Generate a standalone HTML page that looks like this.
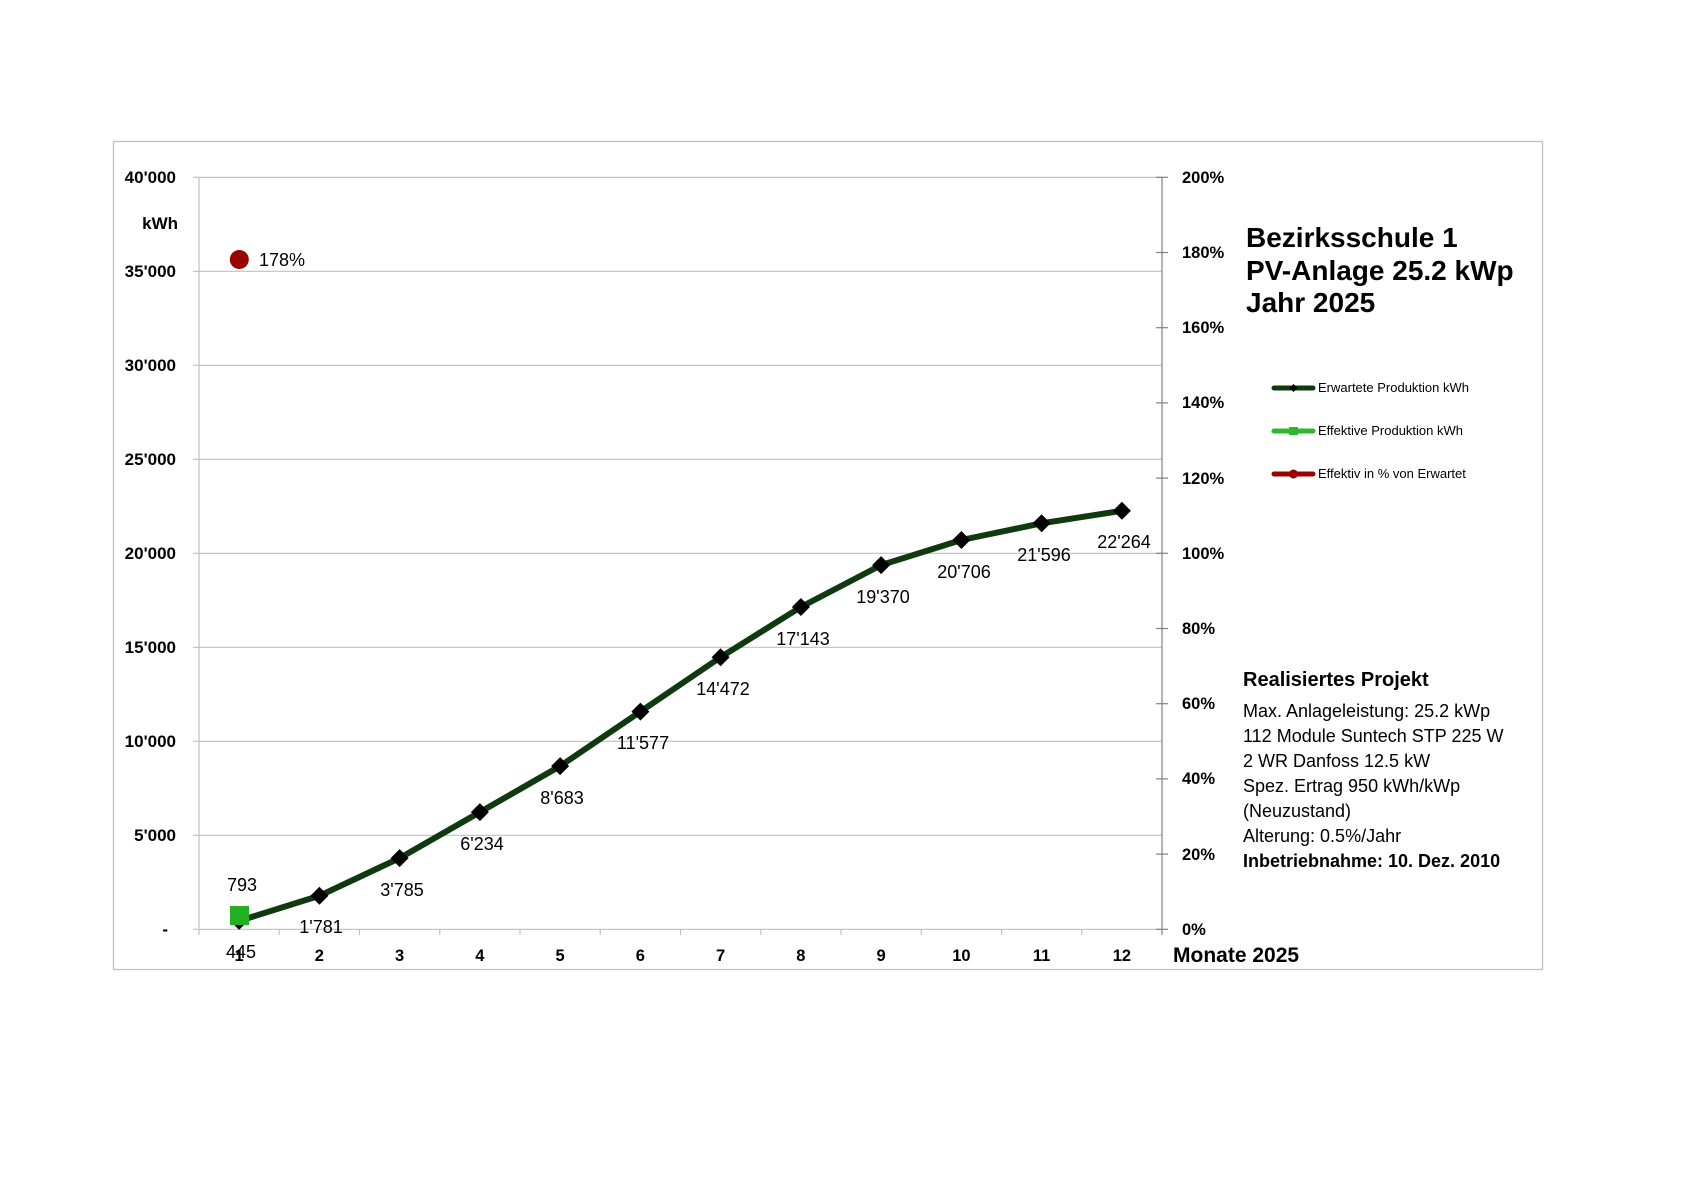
<!DOCTYPE html>
<html><head><meta charset="utf-8"><style>
html,body{margin:0;padding:0;background:#fff;}
svg{display:block;}
text{font-family:"Liberation Sans",sans-serif;}
</style></head><body>
<svg width="1683" height="1190" viewBox="0 0 1683 1190" xmlns="http://www.w3.org/2000/svg">
<rect x="113.5" y="141.5" width="1429" height="828" fill="#fff" stroke="#bfbfbf" stroke-width="1.3"/>
<g stroke="#c0c0c0" stroke-width="1.2">
<line x1="193" y1="177.3" x2="1162" y2="177.3"/>
<line x1="193" y1="271.3" x2="1162" y2="271.3"/>
<line x1="193" y1="365.3" x2="1162" y2="365.3"/>
<line x1="193" y1="459.3" x2="1162" y2="459.3"/>
<line x1="193" y1="553.3" x2="1162" y2="553.3"/>
<line x1="193" y1="647.3" x2="1162" y2="647.3"/>
<line x1="193" y1="741.3" x2="1162" y2="741.3"/>
<line x1="193" y1="835.3" x2="1162" y2="835.3"/>
<line x1="193" y1="929.3" x2="1162" y2="929.3"/>
<line x1="199" y1="177.3" x2="199" y2="935"/>
<line x1="279.25" y1="929.3" x2="279.25" y2="935"/>
<line x1="359.5" y1="929.3" x2="359.5" y2="935"/>
<line x1="439.75" y1="929.3" x2="439.75" y2="935"/>
<line x1="520" y1="929.3" x2="520" y2="935"/>
<line x1="600.25" y1="929.3" x2="600.25" y2="935"/>
<line x1="680.5" y1="929.3" x2="680.5" y2="935"/>
<line x1="760.75" y1="929.3" x2="760.75" y2="935"/>
<line x1="841" y1="929.3" x2="841" y2="935"/>
<line x1="921.25" y1="929.3" x2="921.25" y2="935"/>
<line x1="1001.5" y1="929.3" x2="1001.5" y2="935"/>
<line x1="1081.75" y1="929.3" x2="1081.75" y2="935"/>
</g>
<g stroke="#808080" stroke-width="1.2">
<line x1="1162" y1="177.3" x2="1162" y2="935"/>
<line x1="1156" y1="177.3" x2="1168" y2="177.3"/>
<line x1="1156" y1="252.5" x2="1168" y2="252.5"/>
<line x1="1156" y1="327.7" x2="1168" y2="327.7"/>
<line x1="1156" y1="402.9" x2="1168" y2="402.9"/>
<line x1="1156" y1="478.1" x2="1168" y2="478.1"/>
<line x1="1156" y1="553.3" x2="1168" y2="553.3"/>
<line x1="1156" y1="628.5" x2="1168" y2="628.5"/>
<line x1="1156" y1="703.7" x2="1168" y2="703.7"/>
<line x1="1156" y1="778.9" x2="1168" y2="778.9"/>
<line x1="1156" y1="854.1" x2="1168" y2="854.1"/>
<line x1="1156" y1="929.3" x2="1168" y2="929.3"/>
</g>
<g font-size="17" font-weight="bold" text-anchor="end" fill="#000">
<text x="176" y="183">40'000</text>
<text x="178" y="229">kWh</text>
<text x="176" y="277">35'000</text>
<text x="176" y="371">30'000</text>
<text x="176" y="465">25'000</text>
<text x="176" y="559">20'000</text>
<text x="176" y="653">15'000</text>
<text x="176" y="747">10'000</text>
<text x="176" y="841">5'000</text>
<text x="168" y="935">-</text>
</g>
<g font-size="16.5" font-weight="bold" fill="#000">
<text x="1182" y="183">200%</text>
<text x="1182" y="258">180%</text>
<text x="1182" y="333">160%</text>
<text x="1182" y="408">140%</text>
<text x="1182" y="484">120%</text>
<text x="1182" y="559">100%</text>
<text x="1182" y="634">80%</text>
<text x="1182" y="709">60%</text>
<text x="1182" y="784">40%</text>
<text x="1182" y="860">20%</text>
<text x="1182" y="935">0%</text>
<text x="1173" y="962" font-size="21">Monate 2025</text>
</g>
<g font-size="16.5" font-weight="bold" text-anchor="middle" fill="#000">
<text x="239.1" y="961">1</text><text x="319.4" y="961">2</text><text x="399.6" y="961">3</text>
<text x="479.9" y="961">4</text><text x="560.1" y="961">5</text><text x="640.4" y="961">6</text>
<text x="720.6" y="961">7</text><text x="800.9" y="961">8</text><text x="881.1" y="961">9</text>
<text x="961.4" y="961">10</text><text x="1041.6" y="961">11</text><text x="1121.9" y="961">12</text>
</g>
<polyline fill="none" stroke="#0f3a0f" stroke-width="6" stroke-linejoin="round" points="239.1,920.9 319.4,895.8 399.6,858.1 479.9,812.1 560.1,766.1 640.4,711.6 720.6,657.2 800.9,607.0 881.1,565.1 961.4,540.0 1041.6,523.3 1121.9,510.8"/>
<g fill="#000">
<path d="M239.1 911.9l9 9-9 9-9-9z"/>
<path d="M319.4 886.8l9 9-9 9-9-9z"/>
<path d="M399.6 849.1l9 9-9 9-9-9z"/>
<path d="M479.9 803.1l9 9-9 9-9-9z"/>
<path d="M560.1 757.1l9 9-9 9-9-9z"/>
<path d="M640.4 702.6l9 9-9 9-9-9z"/>
<path d="M720.6 648.2l9 9-9 9-9-9z"/>
<path d="M800.9 598.0l9 9-9 9-9-9z"/>
<path d="M881.1 556.1l9 9-9 9-9-9z"/>
<path d="M961.4 531.0l9 9-9 9-9-9z"/>
<path d="M1041.6 514.3l9 9-9 9-9-9z"/>
<path d="M1121.9 501.8l9 9-9 9-9-9z"/>
</g>
<rect x="230" y="906" width="19" height="19" fill="#22b022"/>
<circle cx="239.3" cy="259.5" r="9.5" fill="#990000"/>
<g font-size="18" fill="#000" text-anchor="middle">
<text x="241" y="958">445</text>
<text x="321" y="933">1'781</text>
<text x="402" y="896">3'785</text>
<text x="482" y="850">6'234</text>
<text x="562" y="804">8'683</text>
<text x="643" y="749">11'577</text>
<text x="723" y="695">14'472</text>
<text x="803" y="645">17'143</text>
<text x="883" y="603">19'370</text>
<text x="964" y="578">20'706</text>
<text x="1044" y="561">21'596</text>
<text x="1124" y="548">22'264</text>
<text x="242" y="891">793</text>
<text x="282" y="266">178%</text>
</g>
<g font-size="28" font-weight="bold" fill="#000">
<text x="1246" y="247">Bezirksschule 1</text>
<text x="1246" y="280">PV-Anlage 25.2 kWp</text>
<text x="1246" y="312">Jahr 2025</text>
</g>
<g stroke-width="5" stroke-linecap="round">
<line x1="1274" y1="388" x2="1313" y2="388" stroke="#0f3a0f"/>
<line x1="1274" y1="431" x2="1313" y2="431" stroke="#2eb82e"/>
<line x1="1274" y1="474" x2="1313" y2="474" stroke="#990000"/>
</g>
<path d="M1293.5 384l4 4-4 4-4-4z" fill="#000"/>
<rect x="1289" y="427" width="9" height="8" fill="#2eb82e"/>
<circle cx="1293.5" cy="474" r="4.5" fill="#990000"/>
<g font-size="13" fill="#000">
<text x="1318" y="392">Erwartete Produktion kWh</text>
<text x="1318" y="435">Effektive Produktion kWh</text>
<text x="1318" y="478">Effektiv in % von Erwartet</text>
</g>
<g font-size="18" fill="#000">
<text x="1243" y="686" font-size="20" font-weight="bold">Realisiertes Projekt</text>
<text x="1243" y="717">Max. Anlageleistung: 25.2 kWp</text>
<text x="1243" y="742">112 Module Suntech STP 225 W</text>
<text x="1243" y="767">2 WR Danfoss 12.5 kW</text>
<text x="1243" y="792">Spez. Ertrag 950 kWh/kWp</text>
<text x="1243" y="817">(Neuzustand)</text>
<text x="1243" y="842">Alterung: 0.5%/Jahr</text>
<text x="1243" y="867" font-weight="bold">Inbetriebnahme: 10. Dez. 2010</text>
</g>
</svg>
</body></html>
